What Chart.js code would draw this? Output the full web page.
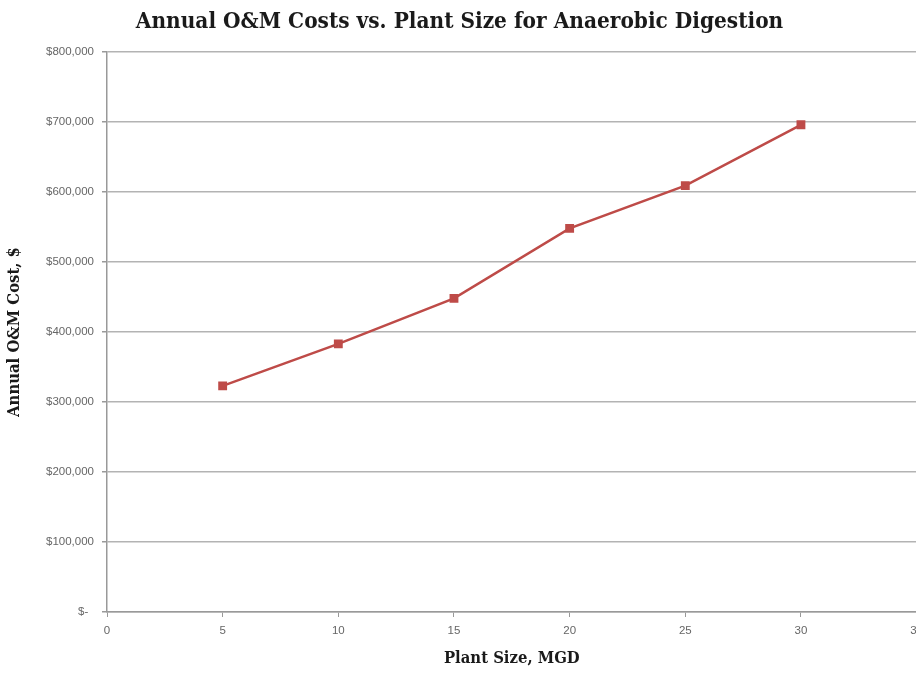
<!DOCTYPE html>
<html>
<head>
<meta charset="utf-8">
<script src="https://cdn.jsdelivr.net/npm/chart.js@4"></script>
<style>
  html, body { margin: 0; padding: 0; background: #fff; overflow: hidden; }
  #wrap { width: 930px; height: 673px; }
</style>
</head>
<body>
<div id="wrap"><canvas id="costChart" width="930" height="673"></canvas></div>
<script>
// Plant size (MGD) and annual O&M cost ($)
const plantSizes = [5, 10, 15, 20, 25, 30];
const omCosts = [323000, 383000, 448000, 548000, 609000, 696000];

const serif = "'DejaVu Serif Condensed', 'DejaVu Serif', 'Liberation Serif', serif";
const tickFont = { family: "'Liberation Sans', Arial, sans-serif", size: 11.5 };

const ctx = document.getElementById("costChart").getContext("2d");
new Chart(ctx, {
    type: "line",
    data: {
        datasets: [{
            label: "Annual O&M Cost",
            data: plantSizes.map((x, i) => ({ x: x, y: omCosts[i] })),
            borderColor: "#be4b48",
            backgroundColor: "#be4b48",
            borderWidth: 2.5,
            pointStyle: "rect",
            pointRadius: 4.5,
            pointHoverRadius: 4.5,
            tension: 0
        }]
    },
    options: {
        responsive: false,
        animation: false,
        layout: { padding: { left: 0, right: 11, top: 0, bottom: 0 } },
        plugins: {
            legend: { display: false },
            tooltip: { enabled: false },
            title: {
                display: true,
                text: "Annual O&M Costs vs. Plant Size for Anaerobic Digestion",
                color: "#1a1a1a",
                font: { family: serif, size: 22.4, weight: "bold", lineHeight: 1.2 },
                padding: { top: 9, bottom: 16.1 }
            }
        },
        scales: {
            x: {
                type: "linear",
                min: 0,
                max: 35,
                ticks: { stepSize: 5, color: "#666", font: tickFont, padding: 7, maxRotation: 0 },
                grid: { drawOnChartArea: false, tickLength: 5, tickColor: "#999" },
                border: { color: "#999", width: 1.5 },
                title: {
                    display: true,
                    text: "Plant Size, MGD",
                    color: "#1a1a1a",
                    font: { family: serif, size: 16.5, weight: "bold" },
                    padding: { top: 4 }
                },
                afterFit: function(scale) { scale.height = 61; }
            },
            y: {
                min: 0,
                max: 800000,
                ticks: {
                    stepSize: 100000,
                    color: "#666",
                    font: tickFont,
                    padding: 8,
                    callback: v => v === 0 ? "$-\u2002" : "$" + v.toLocaleString("en-US")
                },
                grid: { color: "#b3b3b3", lineWidth: 1.5, tickLength: 5, tickColor: "#999" },
                border: { color: "#999", width: 1.5 },
                title: {
                    display: true,
                    text: "Annual O&M Cost, $",
                    color: "#1a1a1a",
                    font: { family: serif, size: 16.5, weight: "bold" },
                    padding: { top: 5, bottom: 0 }
                },
                afterFit: function(scale) { scale.width = 107; }
            }
        }
    }
});
</script>
</body>
</html>
